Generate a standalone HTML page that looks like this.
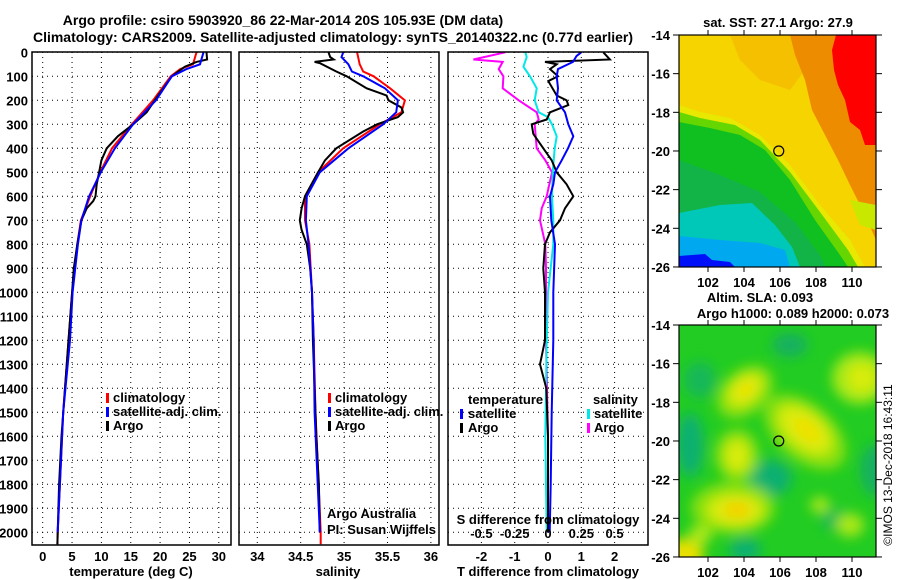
<!DOCTYPE html>
<html><head><meta charset="utf-8">
<style>
body{margin:0;background:#fff;}
svg{display:block;font-family:"Liberation Sans",sans-serif;}
.b{font-weight:bold;font-size:13px;}
.t{font-weight:bold;font-size:14px;}
</style></head>
<body>
<svg id="fig" width="900" height="580" viewBox="0 0 900 580">
<defs>
<clipPath id="c1"><rect x="32" y="52" width="199" height="493"/></clipPath>
<clipPath id="c2"><rect x="239" y="52" width="200" height="493"/></clipPath>
<clipPath id="c3"><rect x="448" y="52" width="200" height="493"/></clipPath>
<clipPath id="cm1"><rect x="679" y="35" width="197" height="232"/></clipPath>
<clipPath id="cm2"><rect x="679" y="325" width="197" height="232"/></clipPath>
<filter id="blur" x="-20%" y="-20%" width="140%" height="140%"><feGaussianBlur stdDeviation="6"/></filter>
</defs>
<text class="t" x="283" y="25" text-anchor="middle">Argo profile: csiro 5903920_86 22-Mar-2014 20S 105.93E (DM data)</text>
<text class="t" x="333" y="42" text-anchor="middle" textLength="600" lengthAdjust="spacingAndGlyphs">Climatology: CARS2009. Satellite-adjusted climatology: synTS_20140322.nc (0.77d earlier)</text>
<g id="grid"></g>
<g id="lines"></g>
<g id="axes"></g>
<g id="maps"></g>
<text x="892" y="465" font-size="12" text-anchor="middle" transform="rotate(-90 892 465)">©IMOS 13-Dec-2018 16:43:11</text>
</svg>
<script>
// ---- data ----
const depthTick = [0,100,200,300,400,500,600,700,800,900,1000,1100,1200,1300,1400,1500,1600,1700,1800,1900,2000];
const tempTicks = [0,5,10,15,20,25,30];
const salTicks = [34,34.5,35,35.5,36];
const salTickLabels = ["34","34.5","35","35.5","36"];
const tdTicks = [-2,-1,0,1,2];
const sdTicks = [-0.5,-0.25,0,0.25,0.5];

const argoTD = [0,30,40,60,100,200,250,300,350,400,450,500,550,600,620,650,700,800,900,1000,1200,1400,1600,1800,2000,2050];
const argoT  = [27.9,28,26.2,24.2,22,19.1,17.7,15.4,12.8,10.9,10,9.6,9.2,9.0,8.6,7.5,6.6,5.9,5.3,5.0,4.4,3.8,3.2,2.8,2.55,2.5];
const climTD = [0,50,70,100,200,300,400,500,600,700,800,1000,1500,2000,2050];
const climT  = [26.2,25.6,23.4,21.8,18.8,15.2,11.8,9.8,8.1,6.5,5.9,5.0,3.5,2.55,2.5];
const satTD  = [0,50,70,100,200,300,400,500,600,700,800,1000,1200,1500,2000];
const satT   = [27.4,26.8,24.5,22,19.3,15.4,12.3,9.9,7.9,6.6,6.0,5.1,4.65,3.5,2.55];

const argoSD = [0,20,30,40,45,80,100,150,180,200,230,250,270,300,330,400,450,500,600,650,700,740,800,900,1000,1200,1400,1600,1800,2000];
const argoS  = [34.82,34.84,34.88,34.66,34.72,34.91,35.03,35.26,35.49,35.51,35.66,35.68,35.62,35.38,35.22,34.91,34.78,34.70,34.55,34.51,34.49,34.51,34.57,34.61,34.63,34.64,34.66,34.68,34.71,34.72];
const climSD = [0,50,80,100,150,200,250,300,400,500,600,700,800,1000,1200,1500,2000,2050];
const climS  = [35.15,35.18,35.22,35.34,35.53,35.70,35.66,35.41,34.99,34.70,34.55,34.55,34.60,34.63,34.65,34.67,34.73,34.73];
const satSD  = [0,20,50,80,100,150,200,250,300,400,500,600,700,800,1000,1200,1500,2000];
const satS   = [34.99,34.97,35.05,35.09,35.22,35.47,35.62,35.60,35.45,35.05,34.72,34.57,34.56,34.59,34.63,34.65,34.66,34.72];

const dTD = [0,15,40,70,100,150,200,250,300,350,400,450,500,550,600,700,800,1000,1200,1500,1800,2000];
const dSatT = [1.0,0.86,0.75,0.3,0.26,0.3,0.26,0.51,0.61,0.76,0.6,0.41,0.21,0.16,0.06,0.1,0.21,0.16,0.16,0.11,0.08,0.05];
const dAD = [0,30,40,50,70,100,120,180,200,220,250,280,300,340,400,450,500,550,600,650,700,750,800,900,1000,1200,1300,1400,1600,2000];
const dArgoT = [1.66,1.86,-0.09,0.26,0.06,0.3,0.01,0.26,0.56,0.61,0.06,-0.04,-0.49,-0.44,-0.14,0.11,0.26,0.56,0.76,0.51,0.36,0.06,-0.09,-0.14,-0.09,-0.09,-0.24,-0.05,0.0,0.0];
const dSD = [0,20,60,100,150,200,250,270,300,350,400,500,600,700,800,1000,1200,1600,2000];
const dSatS = [-0.17,-0.16,-0.185,-0.135,-0.085,-0.1,-0.07,0.0,0.03,0.065,0.05,0.035,0.03,0.04,0.04,0.0,-0.01,-0.02,-0.01];
const dMD = [0,30,40,70,100,150,200,250,280,300,400,450,500,600,650,700,750,800,900,1000,1200,1600,2000];
const dArgoS = [-0.32,-0.56,-0.34,-0.37,-0.335,-0.34,-0.22,-0.085,-0.07,-0.1,-0.085,-0.02,0.03,-0.01,-0.047,-0.06,-0.04,-0.02,-0.015,-0.015,-0.015,0.0,0.0];

const lonTicks = [102,104,106,108,110];
const latTicks = [-14,-16,-18,-20,-22,-24,-26];
const argoLon = 105.93, argoLat = -20;

// ---- axis functions ----
const dy = d => 52.3 + 0.24*d;
const tx = t => 42.7 + 5.87*t;
const sx = s => 257.3 + 86.8*(s-34);
const dtx = t => 548 + 33.3*t;
const dsx = s => 548 + 133.2*s;
const mx = lon => 708 + 18*(lon-102);
const my1 = lat => 35 + 19.33*(-14-lat);
const my2 = lat => 325 + 19.33*(-14-lat);

const NS="http://www.w3.org/2000/svg";
function mk(tag, attrs, parent){const e=document.createElementNS(NS,tag);for(const k in attrs)e.setAttribute(k,attrs[k]);parent.appendChild(e);return e;}
const grid=document.getElementById('grid'), lines=document.getElementById('lines'), axes=document.getElementById('axes'), maps=document.getElementById('maps');

const panels=[{x0:32,x1:231,name:'temperature-panel'},{x0:239,x1:439,name:'salinity-panel'},{x0:448,x1:648,name:'difference-panel'}];
panels.forEach(p=>{
  depthTick.forEach(d=>{
    const l=mk('line',{x1:p.x0,x2:p.x1,y1:dy(d),y2:dy(d),stroke:'#000','stroke-width':1,'stroke-dasharray':'1,4'},grid);
    
    
  });
});
tempTicks.forEach((t,i)=>{
  const l=mk('line',{x1:tx(t),x2:tx(t),y1:52,y2:545,stroke:'#000','stroke-dasharray':'1,4'},grid);
  
  
  const tt=mk('text',{x:tx(t),y:561,'text-anchor':'middle',class:'b'},axes);tt.textContent=t;
  
  
});
salTicks.forEach((s,i)=>{
  const l=mk('line',{x1:sx(s),x2:sx(s),y1:52,y2:545,stroke:'#000','stroke-dasharray':'1,4'},grid);
  
  
  const tt=mk('text',{x:sx(s),y:561,'text-anchor':'middle',class:'b'},axes);tt.textContent=salTickLabels[i];
  
  
});
tdTicks.forEach(t=>{
  const l=mk('line',{x1:dtx(t),x2:dtx(t),y1:52,y2:545,stroke:'#000','stroke-dasharray':'1,4'},grid);
  
  
  const tt=mk('text',{x:dtx(t),y:561,'text-anchor':'middle',class:'b'},axes);tt.textContent=t;
  
  
});
sdTicks.forEach(s=>{
  const tt=mk('text',{x:dsx(s),y:538,'text-anchor':'middle',class:'b'},axes);tt.textContent=s;
  
  
});
depthTick.forEach(d=>{
  const tt=mk('text',{x:28,y:dy(d)+5,'text-anchor':'end',class:'b'},axes);tt.textContent=d;
  
  
});

function prof(ds,vs,fx,color,clip,name,w){
  const pts=ds.map((d,i)=>fx(vs[i]).toFixed(1)+','+dy(d).toFixed(1)).join(' ');
  const p=mk('polyline',{points:pts,fill:'none',stroke:color,'stroke-width':w||2,'clip-path':'url(#'+clip+')'},lines);
  
  
}
prof(climTD,climT,tx,'#ff0000','c1','temperature-climatology-line');
prof(argoTD,argoT,tx,'#000000','c1','temperature-argo-line');
prof(satTD,satT,tx,'#0000ff','c1','temperature-satellite-line');
prof(climSD,climS,sx,'#ff0000','c2','salinity-climatology-line');
prof(argoSD,argoS,sx,'#000000','c2','salinity-argo-line');
prof(satSD,satS,sx,'#0000ff','c2','salinity-satellite-line');
prof(dMD,dArgoS,dsx,'#ff00ff','c3','s-diff-argo-line');
prof(dSD,dSatS,dsx,'#00e8e8','c3','s-diff-satellite-line');
prof(dAD,dArgoT,dtx,'#000000','c3','t-diff-argo-line');
prof(dTD,dSatT,dtx,'#0000ff','c3','t-diff-satellite-line');

panels.forEach(p=>{
  const r=mk('rect',{x:p.x0,y:52,width:p.x1-p.x0,height:493,fill:'none',stroke:'#000','stroke-width':1.5},axes);
  
  
});
function txt(x,y,s,cls,name,anchor,extra){
  const t=mk('text',Object.assign({x:x,y:y,class:cls||'b','text-anchor':anchor||'start'},extra||{}),axes);t.textContent=s;
  
  
  return t;
}
function bar(x,y,c,name){
  const r=mk('rect',{x:x,y:y-9,width:3,height:10,fill:c},axes);
  
  
}
txt(131,576,'temperature (deg C)','b','temperature-axis-title','middle');
txt(338,576,'salinity','b','salinity-axis-title','middle');
txt(548,576,'T difference from climatology','b','t-difference-axis-title','middle');
txt(548,524,'S difference from climatology','b','s-difference-axis-title','middle');
[[ '#ff0000','climatology'],['#0000ff','satellite-adj. clim.'],['#000000','Argo']].forEach((e,i)=>{
  bar(106,402+i*14,e[0],'temperature-legend-swatch');
  txt(113,402+i*14,e[1],'b','temperature-legend-entry');
  bar(328,402+i*14,e[0],'salinity-legend-swatch');
  txt(335,402+i*14,e[1],'b','salinity-legend-entry');
});
txt(468,404,'temperature','b','diff-legend-temperature-heading');
txt(593,404,'salinity','b','diff-legend-salinity-heading');
bar(460,418,'#0000ff','diff-legend-swatch');txt(468,418,'satellite','b','diff-legend-entry');
bar(460,432,'#000000','diff-legend-swatch');txt(468,432,'Argo','b','diff-legend-entry');
bar(587,418,'#00e8e8','diff-legend-swatch');txt(594,418,'satellite','b','diff-legend-entry');
bar(587,432,'#ff00ff','diff-legend-swatch');txt(594,432,'Argo','b','diff-legend-entry');
txt(327,518,'Argo Australia','','credit-line-1','start',{'font-size':12});
txt(327,534,'PI: Susan Wijffels','','credit-line-2','start',{'font-size':12});

// ---- maps ----
const g1=mk('g',{'clip-path':'url(#cm1)'},maps);


const sstRegions=[
 ['#f5d400','679,35 876,35 876,267 679,267'],
 ['#e8e800','679,105 700,112 730,118 760,135 790,165 820,205 850,240 865,267 679,267'],
 ['#66d600','679,112 700,118 735,125 760,140 790,172 820,212 848,250 858,267 679,267'],
 ['#10c020','679,122 710,128 740,135 765,150 790,180 815,220 840,255 848,267 679,267'],
 ['#12b448','679,160 720,175 760,192 795,222 820,255 826,267 679,267'],
 ['#00c8b8','679,213 720,205 752,203 775,225 792,247 800,267 679,267'],
 ['#00a8f0','679,236 720,240 760,243 785,250 790,267 679,267'],
 ['#0010f8','679,256 705,254 712,260 730,262 735,267 679,267'],
 ['#f5c000','730,35 800,35 805,70 790,90 760,80 740,60'],
 ['#ee8c00','790,35 876,35 876,240 865,215 850,185 838,160 825,135 812,110 805,80 795,55'],
 ['#ff0000','836,35 876,35 876,145 865,145 860,130 850,122 845,100 838,85 834,70 832,50'],
 ['#c8e800','850,200 876,205 876,230 860,225']
];
sstRegions.forEach(r=>{
  const p=mk('polygon',{points:r[1],fill:r[0]},g1);
  
  
});
const g2=mk('g',{'clip-path':'url(#cm2)'},maps);


mk('rect',{x:679,y:325,width:197,height:232,fill:'#22cc22'},g2);
const bl=mk('g',{filter:'url(#blur)'},g2);
const slaBlobs=[
 ['#10b070',690,445,14,32,0],['#10b070',770,478,22,18,0],['#12b060',876,470,16,26,0],['#10b070',745,550,16,12,0],
 ['#12b060',790,345,18,12,0],['#16b858',700,380,16,18,0],['#16b858',835,520,14,10,0],
 ['#88e010',745,392,32,22,-40],['#d8ec10',745,390,20,13,-40],['#f0e000',746,390,9,6,-40],
 ['#88e010',805,432,48,28,40],['#d8ec10',805,430,32,18,40],['#f0e000',807,430,16,9,40],
 ['#88e010',737,455,22,26,0],['#d8ec10',737,456,12,16,0],
 ['#88e010',733,508,42,26,0],['#d8ec10',735,510,28,16,0],['#f5d000',737,510,14,8,0],
 ['#a8e818',860,378,28,26,0],['#d8ec10',862,378,14,14,0],['#e8e000',682,555,22,16,0],['#a8e818',850,525,14,12,0],['#a8e818',700,535,12,10,0],['#a8e818',820,505,10,8,0]
];
slaBlobs.forEach(b=>{
  const e=mk('ellipse',{cx:b[1],cy:b[2],rx:b[3],ry:b[4],fill:b[0],transform:'rotate('+b[5]+' '+b[1]+' '+b[2]+')'},bl);
  
  
});
[[my1,35,'sst-map'],[my2,325,'sla-map']].forEach(m=>{
  const f=m[0], y0=m[1];
  const r=mk('rect',{x:679,y:y0,width:197,height:232,fill:'none',stroke:'#000','stroke-width':1.2},maps);
  
  
  latTicks.forEach(la=>{
    mk('line',{x1:673,x2:679,y1:f(la),y2:f(la),stroke:'#000'},maps);
    mk('line',{x1:876,x2:882,y1:f(la),y2:f(la),stroke:'#000'},maps);
    const t=mk('text',{x:670,y:f(la)+5,'text-anchor':'end',class:'b'},maps);t.textContent=la;
    
    
  });
  lonTicks.forEach(lo=>{
    mk('line',{x1:mx(lo),x2:mx(lo),y1:y0-5,y2:y0,stroke:'#000'},maps);
    mk('line',{x1:mx(lo),x2:mx(lo),y1:y0+232,y2:y0+237,stroke:'#000'},maps);
    const t=mk('text',{x:mx(lo),y:y0+252,'text-anchor':'middle',class:'b'},maps);t.textContent=lo;
    
    
  });
  const c=mk('circle',{cx:mx(argoLon),cy:f(argoLat),r:5,fill:'none',stroke:'#000','stroke-width':1.2},maps);
  
  
});
const m1=mk('text',{x:778,y:27,'text-anchor':'middle',class:'b'},maps);m1.textContent='sat. SST: 27.1 Argo: 27.9';


const m2=mk('text',{x:760,y:302,'text-anchor':'middle',class:'b'},maps);m2.textContent='Altim. SLA: 0.093';


const m3=mk('text',{x:793,y:318,'text-anchor':'middle',class:'b'},maps);m3.textContent='Argo h1000: 0.089 h2000: 0.073';


</script>
</body></html>
